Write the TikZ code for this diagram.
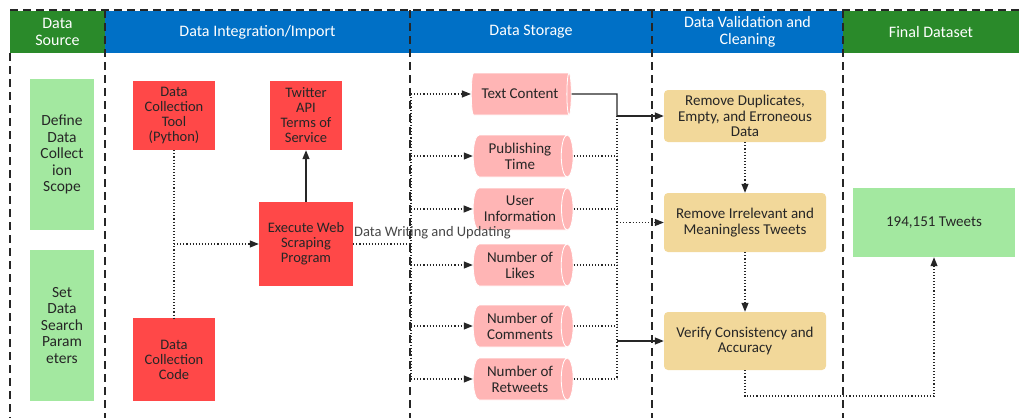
\documentclass[tikz,border=0pt]{standalone}
\usepackage{fontspec}
\setmainfont{Carlito}
\usetikzlibrary{shapes.geometric,arrows.meta}
\definecolor{hgreen}{HTML}{2A8A2A}
\definecolor{hblue}{HTML}{0070C6}
\definecolor{lgreen}{HTML}{A3E8A0}
\definecolor{bred}{HTML}{FF4848}
\definecolor{cpink}{HTML}{FFB5B5}
\definecolor{ybox}{HTML}{F2D89A}
\definecolor{ink}{HTML}{262626}
\tikzset{
  hdr/.style={inner sep=0pt, text=white, font=\fontsize{16}{17}\selectfont, align=center},
  lane/.style={draw=black!85, line width=1.6pt, dash pattern=on 8pt off 5pt},
  gbox/.style={fill=lgreen, draw=none, text=ink, align=center, inner sep=2pt, font=\fontsize{15.5}{16.5}\selectfont},
  rbox/.style={fill=bred, draw=none, text=ink, align=center, inner sep=2pt, font=\fontsize{14.5}{15}\selectfont},
  cyl/.style={cylinder, shape aspect=0.45, fill=cpink, draw=white, line width=0.8pt, minimum width=42pt, minimum height=100pt, inner sep=0pt, text=ink, align=center, font=\fontsize{15}{16}\selectfont},
  ybx/.style={fill=ybox, draw=none, rounded corners=4pt, text=ink, align=center, inner sep=2pt, minimum width=162pt, font=\fontsize{15}{15.5}\selectfont},
  dotl/.style={draw=ink, dotted, line width=1.1pt},
  soll/.style={draw=ink, line width=1.3pt},
  tip/.style={-{Triangle[length=9pt,width=7pt]}},
}
\begin{document}
\begin{tikzpicture}[x=1pt,y=-1pt]
\useasboundingbox (0,0) rectangle (1019,418);
% header bands
\node[hdr, fill=hgreen, minimum width=95pt, minimum height=42pt] (h1) at (57.5,32) {Data\\Source};
\node[hdr, fill=hblue, minimum width=305pt, minimum height=42pt] (h2) at (257.5,32) {Data Integration/Import};
\node[hdr, fill=hblue, minimum width=242pt, minimum height=42pt] (h3) at (531,32) {Data Storage};
\node[hdr, fill=hblue, minimum width=191pt, minimum height=42pt] (h4) at (747.5,32) {Data Validation and\\Cleaning};
\node[hdr, fill=hgreen, minimum width=176pt, minimum height=42pt] (h5) at (931,32) {Final Dataset};
% lane lines
\draw[lane] (10,10) -- (1019,10);
\draw[lane] (10,53) -- (10,418);
\draw[lane] (105,10) -- (105,418);
\draw[lane] (410,10) -- (410,418);
\draw[lane] (652,10) -- (652,418);
\draw[lane] (843,10) -- (843,418);
% data source
\node[gbox, minimum width=64pt, minimum height=151pt] (ds1) at (62,154.5) {Define\\Data\\Collect\\ion\\Scope};
\node[gbox, minimum width=64pt, minimum height=151pt] (ds2) at (62,325.5) {Set\\Data\\Search\\Param\\eters};
% integration
\node[rbox, minimum width=82pt, minimum height=69pt] (dct) at (174,115.5) {Data\\Collection\\Tool\\(Python)};
\node[rbox, minimum width=72pt, minimum height=69pt] (tw) at (306,115.5) {Twitter\\API\\Terms of\\Service};
\node[rbox, minimum width=94pt, minimum height=84pt] (ex) at (306,244) {Execute Web\\Scraping\\Program};
\node[rbox, minimum width=82pt, minimum height=83pt] (dcc) at (174,359.5) {Data\\Collection\\Code};
\coordinate (j1) at (174,244);
\draw[dotl] (dct.south) -- (dcc.north);
\draw[dotl, tip] (j1) -- (ex.west);
\draw[soll, tip] (ex.north) -- (tw.south);
% storage
\node[cyl] (c1) at (520,94) {Text Content};
\node[cyl] (c2) at (520,156) {Publishing\\Time};
\node[cyl] (c3) at (520,209) {User\\Information};
\node[cyl] (c4) at (520,265) {Number of\\Likes};
\node[cyl] (c5) at (520,326) {Number of\\Comments};
\node[cyl] (c6) at (520,379) {Number of\\Retweets};
\coordinate (bus) at (411,244);
\draw[dotl] (ex.east) -- (bus);
\draw[dotl] (411,94) -- (411,379);
\foreach \c in {c1,c2,c3,c4,c5,c6}{
  \draw[dotl, tip] (411,0 |- \c.west) -- (\c.west);
}
\node[anchor=west, inner sep=0pt, text=ink!85, font=\fontsize{14.5}{15}\selectfont] (lbl) at (354,233) {Data Writing and Updating};
% validation
\node[ybx, minimum height=52pt] (rd) at (745,116) {Remove Duplicates,\\Empty, and Erroneous\\Data};
\node[ybx, minimum height=59pt] (ri) at (745,222.5) {Remove Irrelevant and\\Meaningless Tweets};
\node[ybx, minimum height=58pt] (vc) at (745,341) {Verify Consistency and\\Accuracy};
\node[fill=lgreen, minimum width=162pt, minimum height=69pt, text=ink, font=\fontsize{15}{16}\selectfont] (fin) at (934,222.5) {194,151 Tweets};
\coordinate (m1) at (617,116);
\coordinate (m2) at (617,222.5);
\coordinate (m3) at (617,341);
\draw[dotl] (m1) -- (617,379);
\foreach \c in {c2,c3,c4,c5,c6}{
  \draw[dotl] (\c.east) -- (617,0 |- \c.east);
}
\draw[soll] (c1.east) -- (617,94) -- (m1);
\draw[soll, tip] (m1) -- (rd.west);
\draw[dotl, tip] (m2) -- (ri.west);
\draw[soll, tip] (m3) -- (vc.west);
\draw[dotl, tip] (rd.south) -- (ri.north);
\draw[dotl, tip] (ri.south) -- (vc.north);
\coordinate (b1) at (745,396);
\coordinate (b2) at (934,396);
\draw[dotl, tip] (vc.south) -- (b1) -- (b2) -- (fin.south);
\end{tikzpicture}
\end{document}
